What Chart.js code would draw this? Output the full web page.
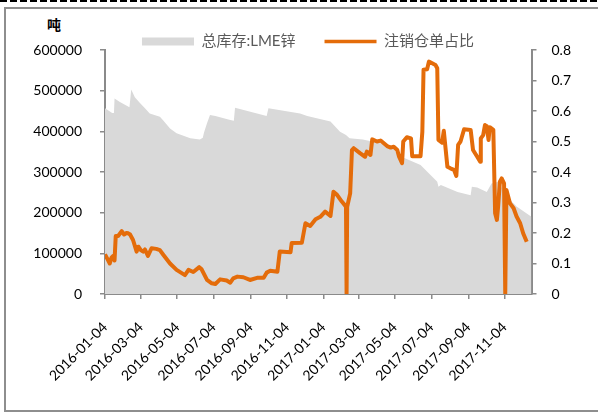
<!DOCTYPE html>
<html><head><meta charset="utf-8">
<script src="https://cdn.jsdelivr.net/npm/chart.js@4.4.0/dist/chart.umd.min.js"></script>
<style>
html,body{margin:0;padding:0;background:#fff;}
#wrap{position:relative;width:598px;height:413px;overflow:hidden;}
#dash{position:absolute;left:0;top:0;width:598px;height:2px;background:repeating-linear-gradient(to right,#000 0 7px,transparent 7px 10px);}
#frame{position:absolute;left:4px;top:7px;width:640px;height:401px;border:2px solid #8e8e8e;border-right:none;}
#unit{position:absolute;left:47px;top:14px;font:bold 14px 'Noto Sans CJK SC';color:#000;line-height:20px;}
canvas{position:absolute;left:0;top:0;}
</style></head>
<body><div id="wrap"><div id="dash"></div><div id="frame"></div><div id="unit">吨</div><canvas id="c" width="598" height="413"></canvas></div>
<script>
const stockLabel = '总库存:LME锌';
const ratioLabel = '注销仓单占比';
const xTickLabels = ['2016-01-04','2016-03-04','2016-05-04','2016-07-04','2016-09-04','2016-11-04','2017-01-04','2017-03-04','2017-05-04','2017-07-04','2017-09-04','2017-11-04'];
const xStart = '2016-01-04';
const xEnd = '2017-12-19';

const stockDates = ['2016-01-04','2016-01-16','2016-01-19','2016-01-20','2016-01-29','2016-02-14','2016-02-17','2016-02-23','2016-03-03','2016-03-11','2016-03-19','2016-04-05','2016-04-10','2016-04-22','2016-05-03','2016-05-26','2016-06-11','2016-06-16','2016-06-18','2016-06-23','2016-06-28','2016-07-07','2016-08-01','2016-08-07','2016-08-09','2016-10-01','2016-10-04','2016-11-26','2016-12-08','2017-01-16','2017-02-01','2017-02-11','2017-02-17','2017-03-11','2017-04-26','2017-05-13','2017-06-16','2017-07-14','2017-07-16','2017-07-20','2017-08-17','2017-09-08','2017-09-10','2017-09-19','2017-10-05','2017-10-13','2017-10-24','2017-11-08','2017-11-24','2017-12-11','2017-12-19'];
const stockValues = [456600,445000,445000,481000,472000,459000,503000,484000,469000,457000,444000,436000,428000,407000,395000,383000,380000,384000,397000,420000,440000,438000,428000,426000,458000,438000,457000,444000,438000,424000,399000,391000,383000,380000,366000,339000,317000,276000,264000,268000,251000,243000,264000,262000,251000,272000,276000,239000,215000,198000,190000];

const ratioDates = ['2016-01-04','2016-01-08','2016-01-12','2016-01-15','2016-01-18','2016-01-20','2016-01-22','2016-01-26','2016-02-01','2016-02-05','2016-02-09','2016-02-12','2016-02-15','2016-02-20','2016-02-26','2016-02-29','2016-03-04','2016-03-08','2016-03-11','2016-03-16','2016-03-22','2016-03-30','2016-04-05','2016-04-11','2016-04-22','2016-05-03','2016-05-17','2016-05-23','2016-05-31','2016-06-10','2016-06-14','2016-06-23','2016-07-01','2016-07-07','2016-07-15','2016-07-26','2016-08-01','2016-08-06','2016-08-13','2016-08-23','2016-09-03','2016-09-15','2016-09-26','2016-10-01','2016-10-07','2016-10-19','2016-10-23','2016-11-10','2016-11-12','2016-11-29','2016-12-05','2016-12-13','2016-12-22','2016-12-30','2017-01-07','2017-01-16','2017-01-21','2017-01-27','2017-02-04','2017-02-10','2017-02-11','2017-02-12','2017-02-13','2017-02-18','2017-02-21','2017-02-24','2017-03-07','2017-03-15','2017-03-18','2017-03-24','2017-03-27','2017-04-04','2017-04-10','2017-04-21','2017-04-27','2017-05-02','2017-05-08','2017-05-11','2017-05-16','2017-05-18','2017-05-24','2017-05-31','2017-06-02','2017-06-16','2017-06-19','2017-06-21','2017-06-27','2017-06-30','2017-07-11','2017-07-14','2017-07-16','2017-07-22','2017-07-25','2017-07-31','2017-08-05','2017-08-11','2017-08-15','2017-08-18','2017-08-22','2017-08-28','2017-09-08','2017-09-12','2017-09-19','2017-09-24','2017-09-25','2017-09-29','2017-10-02','2017-10-05','2017-10-08','2017-10-10','2017-10-16','2017-10-19','2017-10-22','2017-10-24','2017-10-27','2017-10-30','2017-11-03','2017-11-05','2017-11-07','2017-11-13','2017-11-19','2017-11-24','2017-11-30','2017-12-05','2017-12-11'];
const ratioValues = [0.13,0.115,0.10,0.12,0.125,0.11,0.19,0.19,0.206,0.195,0.20,0.199,0.195,0.177,0.139,0.155,0.144,0.139,0.146,0.125,0.150,0.148,0.144,0.128,0.100,0.079,0.062,0.079,0.072,0.088,0.081,0.046,0.035,0.033,0.048,0.044,0.037,0.051,0.057,0.055,0.046,0.053,0.053,0.070,0.076,0.073,0.139,0.137,0.167,0.168,0.232,0.223,0.245,0.253,0.270,0.256,0.335,0.325,0.303,0.289,0.285,0,0.286,0.330,0.472,0.478,0.461,0.450,0.467,0.456,0.507,0.500,0.503,0.485,0.480,0.483,0.472,0.450,0.429,0.500,0.514,0.510,0.452,0.452,0.532,0.735,0.737,0.762,0.751,0.740,0.505,0.496,0.535,0.417,0.412,0.407,0.387,0.489,0.500,0.540,0.538,0.472,0.450,0.434,0.510,0.521,0.554,0.550,0.505,0.547,0.538,0.265,0.243,0.286,0.368,0.379,0.363,0,0.341,0.297,0.281,0.254,0.232,0.199,0.171];

function dayOf(s){const p=s.split('-').map(Number);return (Date.UTC(p[0],p[1]-1,p[2])-Date.UTC(2016,0,4))/86400000;}
function labelOf(v){const l=xTickLabels.find(t=>dayOf(t)===v);return l||'';}

const FONT = "Lato, 'Noto Sans CJK SC', sans-serif";
const AXIS = '#8a8a8a';
const ORANGE = '#E46C0A';
const GRAY = '#D9D9D9';

const legendFit = {
  id:'legendFit',
  beforeLayout(chart){
    const lg = chart.legend;
    if (lg && !lg.__patched){
      const f = lg.fit;
      lg.fit = function(){ f.call(this); this.height = 45; };
      lg.__patched = true;
    }
  }
};

new Chart(document.getElementById('c'), {
  type:'line',
  data:{
    datasets:[
      {label:stockLabel, data:stockDates.map((d,i)=>({x:dayOf(d),y:stockValues[i]})), yAxisID:'y', fill:'origin', backgroundColor:GRAY, borderColor:GRAY, borderWidth:0, pointRadius:0, tension:0, order:1},
      {label:ratioLabel, data:ratioDates.map((d,i)=>({x:dayOf(d),y:ratioValues[i]})), yAxisID:'y1', fill:false, borderColor:ORANGE, backgroundColor:ORANGE, borderWidth:4, pointRadius:0, tension:0, borderJoinStyle:'round', order:0}
    ]
  },
  options:{
    responsive:false, animation:false,
    layout:{padding:{top:5,left:18,right:0,bottom:0}},
    plugins:{
      tooltip:{enabled:false},
      legend:{
        display:true, position:'top',
        labels:{
          usePointStyle:true, pointStyleWidth:52, boxHeight:8, padding:29,
          font:{family:FONT,size:15}, color:'#595959',
          generateLabels:(chart)=>chart.data.datasets.map((ds,i)=>({
            text:ds.label, datasetIndex:i, hidden:false,
            fillStyle: i===0?GRAY:ORANGE, strokeStyle: i===0?GRAY:ORANGE,
            lineWidth: i===0?0:3.5, pointStyle: i===0?'rect':'line', fontColor:'#595959'
          }))
        }
      }
    },
    scales:{
      x:{
        type:'linear', min:dayOf(xStart), max:dayOf(xEnd),
        afterBuildTicks:(s)=>{ s.ticks = xTickLabels.map(l=>({value:dayOf(l)})); },
        afterFit:(s)=>{ s.height = 119; },
        ticks:{callback:(v)=>labelOf(v), minRotation:45, maxRotation:45, autoSkip:false, color:'#000', font:{family:FONT,size:14}, padding:20},
        grid:{drawOnChartArea:false, tickLength:5, color:AXIS, lineWidth:1.5},
        border:{color:AXIS, width:2}
      },
      y:{
        position:'left', min:0, max:600000,
        afterFit:(s)=>{ s.width = 87; },
        ticks:{stepSize:100000, callback:(v)=>String(v), padding:18, color:'#000', font:{family:FONT,size:14}},
        grid:{drawOnChartArea:false, tickLength:5, color:AXIS, lineWidth:1.5},
        border:{color:AXIS, width:2}
      },
      y1:{
        position:'right', min:0, max:0.8,
        afterFit:(s)=>{ s.width = 66.5; },
        ticks:{stepSize:0.1, callback:(v)=>String(Number(v.toFixed(1))), padding:15, color:'#000', font:{family:FONT,size:14}},
        grid:{drawOnChartArea:false, tickLength:5, color:AXIS, lineWidth:1.5},
        border:{color:AXIS, width:2}
      }
    }
  },
  plugins:[legendFit]
});
</script>
</body></html>
